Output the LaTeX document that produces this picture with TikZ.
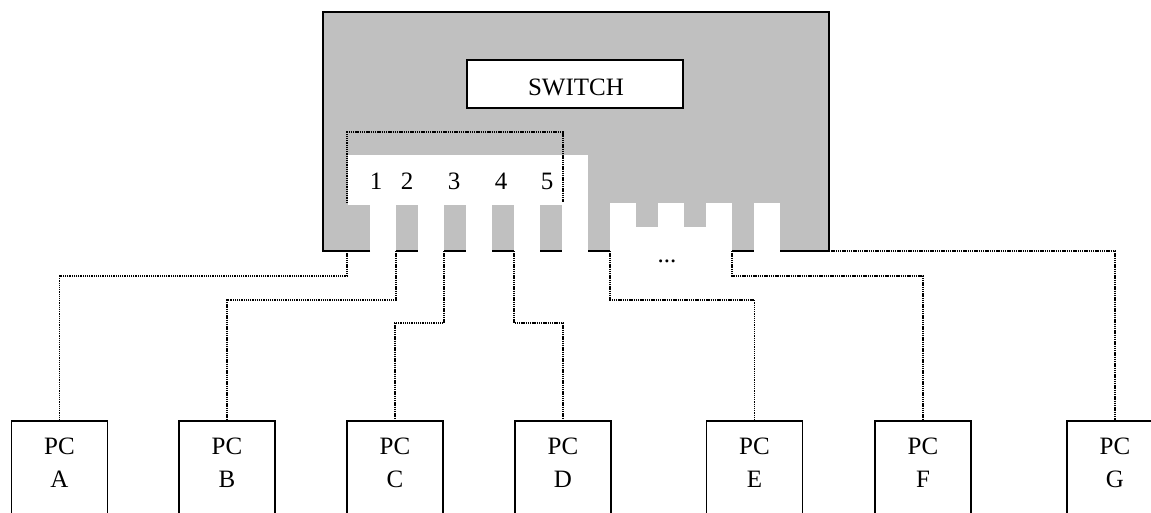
\documentclass[tikz,border=0pt]{standalone}
\usepackage{fontspec}
\setmainfont{Liberation Serif}
\definecolor{switchgray}{HTML}{C0C0C0}
\begin{document}
\begin{tikzpicture}[x=1pt,y=-1pt,
  edge/.style={line width=1.8pt},
  wire/.style={line width=1.9pt, dash pattern=on 1.3pt off 0.9pt},
  titlebox/.style={draw, line width=1.8pt, fill=white, inner sep=0pt, minimum width=216pt, minimum height=48pt},
  lbl/.style={font=\fontsize{25}{29}\selectfont, inner sep=0pt, anchor=base},
  pcbox/.style={draw, line width=1.8pt, minimum width=96pt, minimum height=120pt, anchor=north, inner sep=0pt},
]
\useasboundingbox (0,0) rectangle (1151,512);
% switch body
\fill[switchgray] (323,12) rectangle (829,251);
\fill[white] (348,155) rectangle (588,205);
\foreach \a/\b in {370/396, 418/444, 466/492, 514/540, 562/588}
  \fill[white] (\a,204) rectangle (\b,253);
\fill[white] (610,203) rectangle (732,253);
\fill[switchgray] (636,203) rectangle (658,227);
\fill[switchgray] (684,203) rectangle (706,227);
\fill[white] (754,203) rectangle (780,253);
% outline
\draw[edge] (370,251) -- (323,251) -- (323,12) -- (829,12) -- (829,251) -- (780,251);
\foreach \a/\b in {396/418, 444/466, 492/514, 540/562, 588/610, 732/754}
  \draw[edge] (\a,251) -- (\b,251);
% title
\node[titlebox] (sw) at (575,84) {};
\node[lbl] (swt) at (576,95) {SWITCH};
% port group
\draw[wire] (347,203) -- (347,132) -- (563,132) -- (563,202);
\node[lbl] (n1) at (376,189.5) {1};
\node[lbl] (n2) at (407,189.5) {2};
\node[lbl] (n3) at (454,189.5) {3};
\node[lbl] (n4) at (501,189.5) {4};
\node[lbl] (n5) at (547,189.5) {5};
\node[lbl] (dots) at (667,262) {...};
% ports
\coordinate (p1) at (347,251);
\coordinate (p2) at (396,251);
\coordinate (p3) at (444,251);
\coordinate (p4) at (514,251);
\coordinate (p5) at (610,251);
\coordinate (p6) at (732,251);
\coordinate (p7) at (829,251);
% PCs
\foreach \n/\x in {A/59.5, B/227, C/395, D/563, E/754.5, F/923, G/1115} {
  \node[pcbox] (\n) at (\x,420) {};
  \node[lbl] (\n1) at (\x,454) {PC};
  \node[lbl] (\n2) at (\x,487) {\n};
}
% connectors
\draw[wire] (p1) -- ++(0,25) -| (A.north);
\draw[wire] (p2) -- ++(0,49) -| (B.north);
\draw[wire] (p3) -- ++(0,72) -| (C.north);
\draw[wire] (p4) -- ++(0,72) -| (D.north);
\draw[wire] (p5) -- ++(0,49) -| (E.north);
\draw[wire] (p6) -- ++(0,25) -| (F.north);
\draw[wire] (p7) -| (G.north);
\end{tikzpicture}
\end{document}
